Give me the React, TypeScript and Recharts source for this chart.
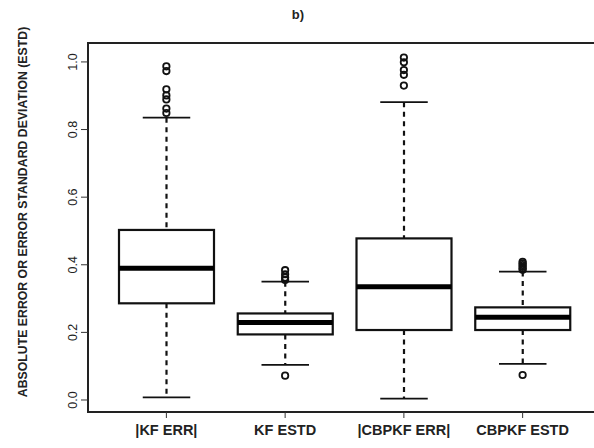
import { Bar, ComposedChart, Customized, ReferenceArea, Scatter, XAxis, YAxis } from "recharts";

// box statistics per group
const categories = ["|KF ERR|", "KF ESTD", "|CBPKF ERR|", "CBPKF ESTD"];
const lowerWhisker = [0.008, 0.104, 0.004, 0.107];
const firstQuartile = [0.286, 0.194, 0.207, 0.207];
const medians = [0.39, 0.229, 0.335, 0.245];
const thirdQuartile = [0.503, 0.256, 0.478, 0.274];
const upperWhisker = [0.835, 0.35, 0.881, 0.38];
const outliers = [
  [0.987, 0.973, 0.919, 0.901, 0.889, 0.862, 0.849],
  [0.384, 0.372, 0.362, 0.355, 0.072],
  [1.013, 0.999, 0.976, 0.962, 0.93],
  [0.409, 0.404, 0.399, 0.394, 0.389, 0.385, 0.074],
];
const yTicks = [0, 0.2, 0.4, 0.6, 0.8, 1.0];
const xRange = [0.34, 4.66];
const yRange = [-0.0355, 1.056];

const boxData = categories.map((name, i) => ({
  name,
  low: lowerWhisker[i],
  q1: firstQuartile[i],
  med: medians[i],
  q3: thirdQuartile[i],
  high: upperWhisker[i],
  box: [firstQuartile[i], thirdQuartile[i]],
}));

const outlierPoints = outliers.flatMap((vals, i) => vals.map((value) => ({ pos: i + 1, value })));

const FONT = "'Liberation Sans', Arial, sans-serif";

// box, median and dashed whiskers, scaled from the bar's own q1..q3 extent
function BoxShape(props: any) {
  const { x, width, payload } = props;
  const top = Math.min(props.y, props.y + props.height);
  const h = Math.abs(props.height);
  const ppu = h / (payload.q3 - payload.q1);
  const toY = (v: number) => top + (payload.q3 - v) * ppu;
  const cx = x + width / 2;
  const cap = width / 4;
  return (
    <g>
      <line x1={cx} x2={cx} y1={toY(payload.high)} y2={top} stroke='#111' strokeWidth={2.2} strokeDasharray='5 4.5' />
      <line x1={cx} x2={cx} y1={top + h} y2={toY(payload.low)} stroke='#111' strokeWidth={2.2} strokeDasharray='5 4.5' />
      <line x1={cx - cap} x2={cx + cap} y1={toY(payload.high)} y2={toY(payload.high)} stroke='#111' strokeWidth={1.8} />
      <line x1={cx - cap} x2={cx + cap} y1={toY(payload.low)} y2={toY(payload.low)} stroke='#111' strokeWidth={1.8} />
      <rect x={x} y={top} width={width} height={h} fill='#fff' stroke='#111' strokeWidth={2.2} />
      <line x1={x} x2={x + width} y1={toY(payload.med)} y2={toY(payload.med)} stroke='#000' strokeWidth={5} />
    </g>
  );
}

function OutlierDot(props: any) {
  return <circle cx={props.cx} cy={props.cy} r={3.2} fill='none' stroke='#111' strokeWidth={1.8} />;
}

function YTick(props: any) {
  const { x, y, payload } = props;
  return (
    <text x={x} y={y} transform={`rotate(-90 ${x} ${y})`} textAnchor='middle' fontFamily={FONT} fontSize={12.5} fill='#222'>
      {payload.value.toFixed(1)}
    </text>
  );
}

function XTick(props: any) {
  const { x, y, payload } = props;
  return (
    <text x={x} y={y + 15} textAnchor='middle' fontFamily={FONT} fontSize={14.5} fontWeight='bold' fill='#222'>
      {payload.value}
    </text>
  );
}

function Titles() {
  return (
    <g fontFamily={FONT} fill='#222'>
      <text x={298} y={19} textAnchor='middle' fontSize={13} fontWeight='bold'>
        b)
      </text>
      <text x={27} y={212} transform='rotate(-90 27 212)' textAnchor='middle' fontSize={12.3} fontWeight='bold'>
        ABSOLUTE ERROR OR ERROR STANDARD DEVIATION (ESTD)
      </text>
    </g>
  );
}

export default function App() {
  return (
    <div style={{ position: "absolute", left: 0, top: 0, width: 594, height: 448, overflow: "hidden", background: "#fff" }}>
      <ComposedChart width={610} height={448} data={boxData} margin={{ top: 43, right: 9, bottom: 0, left: 0 }}>
        <XAxis
          xAxisId='cat'
          dataKey='name'
          type='category'
          height={36}
          padding={{ left: 19, right: 19 }}
          tick={<XTick />}
          tickSize={6}
          tickLine={{ stroke: "#333" }}
          axisLine={false}
          interval={0}
        />
        <XAxis xAxisId='num' dataKey='pos' type='number' domain={xRange} allowDataOverflow hide />
        <YAxis
          type='number'
          domain={yRange}
          allowDataOverflow
          ticks={yTicks}
          width={88}
          tickSize={7}
          tickMargin={4}
          tick={<YTick />}
          tickLine={{ stroke: "#333" }}
          axisLine={false}
        />
        <ReferenceArea
          xAxisId='num'
          x1={xRange[0]}
          x2={xRange[1]}
          y1={yRange[0]}
          y2={yRange[1]}
          fill='none'
          stroke='#222'
          strokeWidth={2}
          ifOverflow='visible'
        />
        <Bar xAxisId='cat' dataKey='box' barSize={95} shape={<BoxShape />} isAnimationActive={false} />
        <Scatter xAxisId='num' data={outlierPoints} dataKey='value' shape={<OutlierDot />} isAnimationActive={false} />
        <Customized component={<Titles />} />
      </ComposedChart>
    </div>
  );
}
